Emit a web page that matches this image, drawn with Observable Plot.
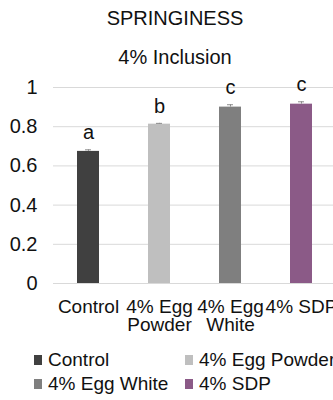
<!DOCTYPE html>
<html>
<head>
<meta charset="utf-8">
<script src="https://cdn.jsdelivr.net/npm/d3@7"></script>
<script src="https://cdn.jsdelivr.net/npm/@observablehq/plot@0.6"></script>
<style>
  body { margin: 0; background: #fff; font-family: "Liberation Sans", Arial, sans-serif; }
  #wrap { position: relative; width: 333px; height: 400px; overflow: hidden; }
  .title { position: absolute; left: 0; width: 350px; text-align: center; font-size: 20px; color: #111; line-height: 24px; }
  #chart { position: absolute; left: 0; top: 70px; }
  .leg { position: absolute; font-size: 19px; color: #111; line-height: 20px; white-space: nowrap; }
  .leg span.sw { display: inline-block; width: 8px; height: 10px; margin-right: 6px; vertical-align: 1px; }
</style>
</head>
<body>
<div id="wrap">
  <div class="title" style="top:6px">SPRINGINESS</div>
  <div class="title" style="top:45px">4% Inclusion</div>
  <div id="chart"></div>
  <div id="legend"></div>
</div>
<script>
const categories = ["Control", "4% Egg Powder", "4% Egg White", "4% SDP"];
const tickLabels = ["Control", "4% Egg\nPowder", "4% Egg\nWhite", "4% SDP"];
const values = [0.674, 0.813, 0.900, 0.915];
const errors = [0.008, 0.004, 0.012, 0.012];
const letters = ["a", "b", "c", "c"];
const colors = ["#404040", "#bfbfbf", "#7f7f7f", "#8b5a87"];
const yTicks = [0, 0.2, 0.4, 0.6, 0.8, 1];

const data = categories.map((c, i) => ({cat: c, v: values[i], e: errors[i], l: letters[i]}));
const labelOf = Object.fromEntries(categories.map((c, i) => [c, tickLabels[i]]));

const plot = Plot.plot({
  width: 333,
  height: 270,
  marginTop: 17,
  marginBottom: 57,
  marginLeft: 53,
  marginRight: 0,
  style: {fontFamily: "Liberation Sans, Arial, sans-serif", fontSize: "19px", color: "#111", background: "#fff", overflow: "visible"},
  x: {domain: categories, range: [53, 337], paddingInner: 0.69, paddingOuter: 0.345, label: null},
  y: {domain: [0, 1], label: null},
  color: {domain: categories, range: colors},
  marks: [
    Plot.ruleY(yTicks, {stroke: "#d9d9d9", strokeWidth: 1}),
    Plot.barY(data, {x: "cat", y: "v", fill: "cat"}),
    Plot.ruleY([0], {stroke: "#d9d9d9", strokeWidth: 1}),
    Plot.ruleX(data, {x: "cat", y1: "v", y2: d => d.v + d.e, stroke: "#8c8c8c"}),
    Plot.tickY(data, {x: "cat", y: d => d.v + d.e, stroke: "#8c8c8c", insetLeft: 8, insetRight: 8}),
    Plot.text(data, {x: "cat", y: d => d.v + d.e, text: "l", dy: -17, fill: "#111", fontSize: 20}),
    Plot.axisY({ticks: yTicks, tickSize: 0, tickPadding: 16, tickFormat: d => String(d), fontSize: 20}),
    Plot.axisX({tickSize: 0, tickPadding: 17, tickFormat: d => labelOf[d], fontSize: 19, lineHeight: 0.95})
  ]
});
document.getElementById("chart").appendChild(plot);

const legendItems = [
  {cat: categories[0], left: 34, top: 350},
  {cat: categories[1], left: 185, top: 350},
  {cat: categories[2], left: 34, top: 374},
  {cat: categories[3], left: 185, top: 374}
];
const legend = document.getElementById("legend");
legendItems.forEach(item => {
  const i = categories.indexOf(item.cat);
  const d = document.createElement("div");
  d.className = "leg";
  d.style.left = item.left + "px";
  d.style.top = item.top + "px";
  d.innerHTML = `<span class="sw" style="background:${colors[i]}"></span>${item.cat}`;
  legend.appendChild(d);
});
</script>
</body>
</html>
